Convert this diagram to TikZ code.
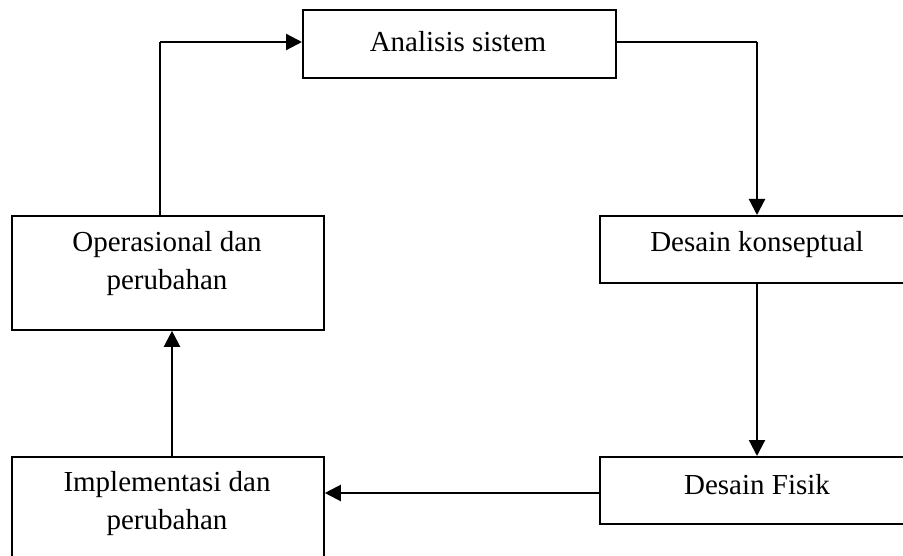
\documentclass[tikz,border=0pt]{standalone}
\usepackage{fontspec}
\setmainfont{Liberation Serif}
\usetikzlibrary{arrows.meta}
\begin{document}
\begin{tikzpicture}[x=1pt,y=-1pt,
  stage/.style={draw=black,line width=1.8pt,rectangle,inner sep=0pt,anchor=north west},
  caption/.style={font=\fontsize{29}{38}\selectfont,align=center,inner sep=0pt},
  flow/.style={line width=2.2pt,-{Triangle[length=16pt,width=16pt]}},
  link/.style={line width=2.2pt}]
\useasboundingbox (0,0) rectangle (903,556);
\begin{scope}
\clip (0,0) rectangle (903,556);
% process boxes (some run past the page edge)
\node[stage,minimum width=313pt,minimum height=68pt] (ana) at (302,9) {};
\node[stage,minimum width=318pt,minimum height=67pt] (kon) at (599,215) {};
\node[stage,minimum width=318pt,minimum height=67pt] (fis) at (599,456) {};
\node[stage,minimum width=312pt,minimum height=114pt] (imp) at (11,456) {};
\node[stage,minimum width=312pt,minimum height=114pt] (ops) at (11,215) {};
% labels
\node[caption] (tana) at (458,42) {Analisis sistem};
\node[caption] (tkon) at (757,245) {Desain konseptual};
\node[caption] (tfis) at (757,485) {Desain Fisik};
\node[caption] (tops) at (167,264) {Operasional dan\\perubahan};
\node[caption] (timp) at (167,504) {Implementasi dan\\perubahan};
% connectors
\coordinate (c1) at (757,42);
\coordinate (c2) at (160,42);
\draw[link] (ana.east |- c1) -- (c1);
\draw[flow] (c1) -- (kon.north -| c1);
\draw[flow] (kon.south -| c1) -- (fis.north -| c1);
\draw[flow] (fis.west |- 0,493) -- (imp.east |- 0,493);
\draw[flow] (imp.north -| 172,0) -- (ops.south -| 172,0);
\draw[link] (ops.north -| c2) -- (c2);
\draw[flow] (c2) -- (ana.west |- c2);
\end{scope}
\end{tikzpicture}
\end{document}
